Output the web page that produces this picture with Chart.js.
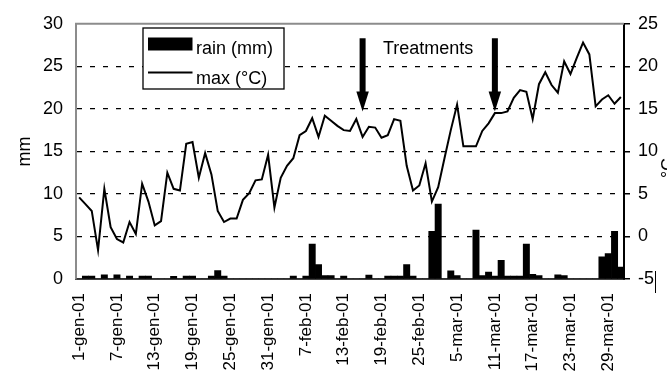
<!DOCTYPE html>
<html>
<head>
<meta charset="utf-8">
<script src="https://cdn.jsdelivr.net/npm/chart.js@4/dist/chart.umd.min.js"></script>
<style>
  html, body { margin: 0; padding: 0; background: #fff; }
  canvas { display: block; }
</style>
</head>
<body>
<canvas id="chart" width="667" height="382"></canvas>
<script>
// Daily records, 1 January - 31 March 2001 (days without a reading are absent)
const days = [
  '1-gen-01','2-gen-01','3-gen-01','4-gen-01','5-gen-01','6-gen-01','7-gen-01','8-gen-01','9-gen-01','10-gen-01',
  '11-gen-01','12-gen-01','13-gen-01','14-gen-01','15-gen-01','16-gen-01','17-gen-01','18-gen-01','19-gen-01','20-gen-01',
  '21-gen-01','22-gen-01','23-gen-01','24-gen-01','25-gen-01','26-gen-01','27-gen-01','28-gen-01','29-gen-01','30-gen-01',
  '31-gen-01','1-feb-01','2-feb-01','3-feb-01','5-feb-01','6-feb-01','7-feb-01','8-feb-01','9-feb-01','10-feb-01',
  '11-feb-01','12-feb-01','13-feb-01','14-feb-01','15-feb-01','16-feb-01','17-feb-01','18-feb-01','19-feb-01','20-feb-01',
  '21-feb-01','22-feb-01','23-feb-01','24-feb-01','25-feb-01','26-feb-01','27-feb-01','28-feb-01','1-mar-01','2-mar-01',
  '5-mar-01','6-mar-01','7-mar-01','8-mar-01','9-mar-01','10-mar-01','11-mar-01','12-mar-01','13-mar-01','14-mar-01',
  '15-mar-01','16-mar-01','17-mar-01','18-mar-01','19-mar-01','20-mar-01','21-mar-01','22-mar-01','23-mar-01','24-mar-01',
  '25-mar-01','26-mar-01','27-mar-01','28-mar-01','29-mar-01','30-mar-01','31-mar-01'
];

// Daily rainfall (mm)
const rainMm = [
  0, 0.35, 0.35, 0, 0.5, 0, 0.5, 0, 0.35, 0,
  0.35, 0.35, 0, 0, 0, 0.3, 0, 0.35, 0.35, 0,
  0, 0.35, 1.0, 0.35, 0, 0, 0, 0, 0, 0,
  0, 0, 0, 0, 0.35, 0, 0.35, 4.1, 1.7, 0.4,
  0.4, 0, 0.35, 0, 0, 0, 0.45, 0, 0, 0.35,
  0.35, 0.35, 1.7, 0.35, 0, 0, 5.6, 8.8, 0, 0.95,
  0.4, 0, 0, 5.75, 0.4, 0.8, 0.35, 2.2, 0.35, 0.35,
  0.35, 4.1, 0.55, 0.4, 0, 0, 0.5, 0.4, 0, 0,
  0, 0, 0, 2.6, 3.0, 5.6, 1.4
];

// Daily maximum air temperature (°C)
const maxTemp = [
  4.6, 3.8, 3.0, -1.6, 5.6, 1.1, -0.3, -0.7, 1.7, 0.3,
  6.2, 4.1, 1.3, 1.8, 7.5, 5.6, 5.4, 10.9, 11.1, 6.9,
  9.8, 7.3, 3.0, 1.7, 2.1, 2.1, 4.3, 5.1, 6.6, 6.7,
  9.6, 3.4, 6.9, 8.3, 9.2, 11.9, 12.4, 13.9, 11.7, 14.2,
  13.6, 13.0, 12.5, 12.4, 13.8, 11.7, 12.9, 12.8, 11.6, 11.9,
  13.8, 13.6, 8.3, 5.4, 6.0, 8.6, 4.1, 5.8, 9.2, 12.5,
  15.5, 10.6, 10.6, 10.6, 12.4, 13.3, 14.5, 14.5, 14.7, 16.3,
  17.2, 17.0, 13.8, 17.9, 19.3, 17.8, 16.9, 20.6, 19.1, 21.0,
  22.8, 21.4, 15.3, 16.1, 16.6, 15.6, 16.4
];

// Axis ranges
const rainTicks = [0, 30, 5];   // min, max, step (mm)
const tempTicks = [-5, 25, 5];  // min, max, step (°C)

// Treatment dates, marked with arrows
const treatments = ['16-feb-01', '11-mar-01'];

const FONT = "'Liberation Sans', Arial, Helvetica, sans-serif";
const LABEL_EVERY = 6;

const overlay = {
  id: 'overlay',
  afterDraw(chart) {
    const { ctx, chartArea: a, scales } = chart;
    const xs = scales.x, ts = scales.y1;
    ctx.save();

    // plot-area frame along the top
    ctx.strokeStyle = '#8c8c8c';
    ctx.lineWidth = 2;
    ctx.beginPath();
    ctx.moveTo(a.left - 1, a.top);
    ctx.lineTo(a.right, a.top);
    ctx.stroke();

    // legend box
    const lx = 143, ly = 28, lw = 141, lh = 61;
    ctx.fillStyle = '#fff';
    ctx.fillRect(lx, ly, lw, lh);
    ctx.strokeStyle = '#000';
    ctx.lineWidth = 1.3;
    ctx.strokeRect(lx, ly, lw, lh);
    ctx.fillStyle = '#000';
    ctx.fillRect(148, 37.5, 44.5, 13);
    ctx.lineWidth = 2;
    ctx.beginPath();
    ctx.moveTo(148, 72.5);
    ctx.lineTo(192.5, 72.5);
    ctx.stroke();
    ctx.font = '18px ' + FONT;
    ctx.textBaseline = 'alphabetic';
    ctx.textAlign = 'left';
    ctx.fillText(chart.data.datasets[1].label, 196, 53.5);
    ctx.fillText(chart.data.datasets[0].label, 196, 83.5);

    // treatment arrows
    treatments.forEach(d => {
      const xc = xs.getPixelForValue(days.indexOf(d));
      const yTop = ts.getPixelForValue(23.3);
      const yTip = ts.getPixelForValue(14.7);
      const headH = 20, headW = 12.5, shaftW = 6;
      ctx.fillRect(xc - shaftW / 2, yTop, shaftW, yTip - headH - yTop + 1);
      ctx.beginPath();
      ctx.moveTo(xc - headW / 2, yTip - headH);
      ctx.lineTo(xc + headW / 2, yTip - headH);
      ctx.lineTo(xc, yTip);
      ctx.closePath();
      ctx.fill();
    });
    ctx.fillText('Treatments', 383, 53.5);

    // right-hand axis title
    ctx.save();
    ctx.translate(674, 168);
    ctx.rotate(-Math.PI / 2);
    ctx.textAlign = 'center';
    ctx.fillText('°C', 0, 0);
    ctx.restore();

    // short rule beside the lowest right-hand label
    ctx.lineWidth = 1;
    ctx.beginPath();
    ctx.moveTo(655.5, 271);
    ctx.lineTo(655.5, 293);
    ctx.stroke();

    ctx.restore();
  }
};

new Chart(document.getElementById('chart'), {
  type: 'bar',
  data: {
    labels: days,
    datasets: [
      {
        type: 'line',
        label: 'max (°C)',
        data: maxTemp,
        yAxisID: 'y1',
        borderColor: '#000',
        borderWidth: 2,
        pointRadius: 0,
        tension: 0,
        order: 0
      },
      {
        type: 'bar',
        label: 'rain (mm)',
        data: rainMm,
        yAxisID: 'y',
        backgroundColor: '#000',
        borderWidth: 0,
        barPercentage: 1,
        categoryPercentage: 1,
        order: 1
      }
    ]
  },
  options: {
    responsive: false,
    devicePixelRatio: 1,
    animation: false,
    layout: { padding: { top: 15, left: 0, right: 0, bottom: 0 } },
    plugins: { legend: { display: false }, tooltip: { enabled: false } },
    scales: {
      x: {
        grid: { display: false, drawTicks: false },
        border: { color: '#404040', width: 2 },
        ticks: {
          autoSkip: false, maxRotation: 90, minRotation: 90, padding: 14,
          color: '#000', font: { family: FONT, size: 17 },
          callback: (v, i) => (i % LABEL_EVERY === 0 ? days[i] : '')
        },
        afterFit: s => { s.height = 103; }
      },
      y: {
        position: 'left',
        min: rainTicks[0], max: rainTicks[1],
        ticks: { stepSize: rainTicks[2], padding: 13, color: '#000', font: { family: FONT, size: 18 } },
        grid: {
          drawTicks: false,
          lineWidth: 1.2,
          color: c => (c.tick && (c.tick.value === rainTicks[0] || c.tick.value === rainTicks[1])) ? 'rgba(0,0,0,0)' : '#000'
        },
        border: { color: '#8c8c8c', width: 2, dash: [5, 8] },
        title: { display: true, text: 'mm', color: '#000', font: { family: FONT, size: 18 }, padding: { top: 14, bottom: 0 } },
        afterFit: s => { s.width = 76; }
      },
      y1: {
        position: 'right',
        min: tempTicks[0], max: tempTicks[1],
        ticks: { stepSize: tempTicks[2], padding: 8, color: '#000', font: { family: FONT, size: 18 } },
        grid: { drawOnChartArea: false, drawTicks: true, tickLength: 6, color: '#000', lineWidth: 1.5 },
        border: { color: '#000', width: 2 },
        afterFit: s => { s.width = 43; }
      }
    }
  },
  plugins: [overlay]
});
</script>
</body>
</html>
